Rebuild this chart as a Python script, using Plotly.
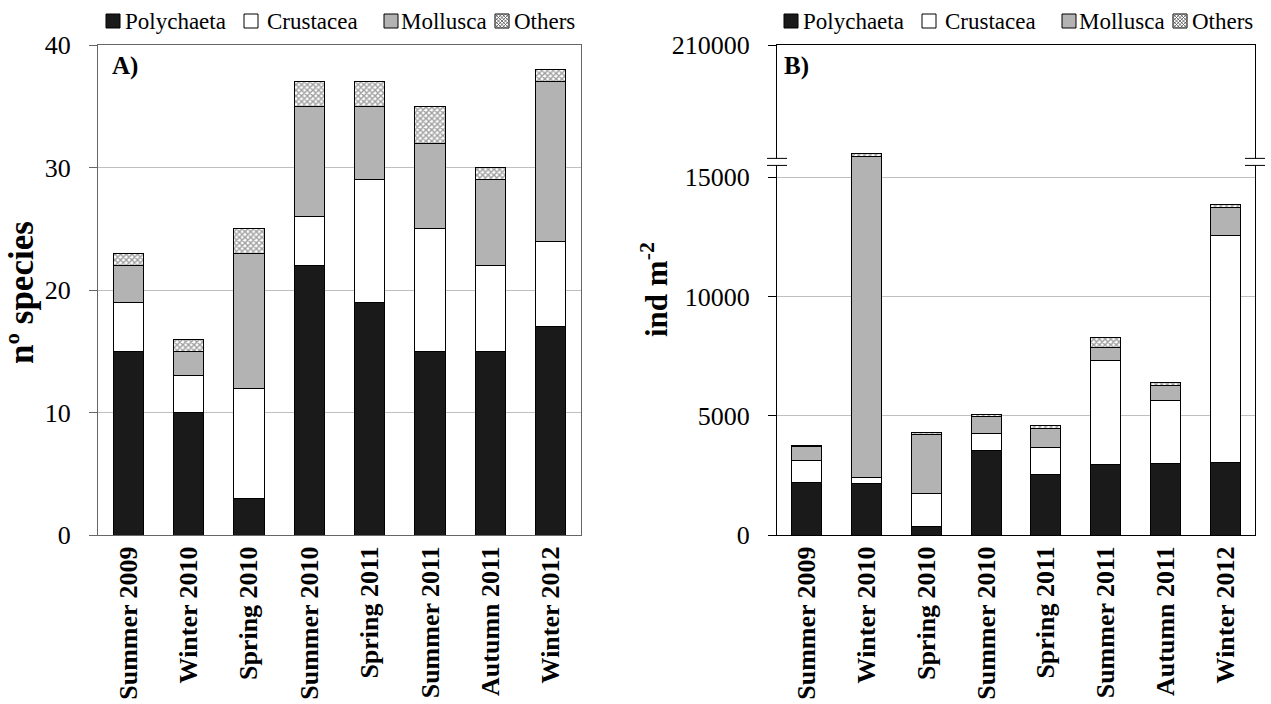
import plotly.graph_objects as go

categories = ["Summer 2009", "Winter 2010", "Spring 2010", "Summer 2010",
              "Spring 2011", "Summer 2011", "Autumn 2011", "Winter 2012"]
groups = ["Polychaeta", "Crustacea", "Mollusca", "Others"]

# Panel A: number of species
species_poly = [15, 10, 3, 22, 19, 15, 15, 17]
species_crus = [4, 3, 9, 4, 10, 10, 7, 7]
species_moll = [3, 2, 11, 9, 6, 7, 7, 13]
species_oth = [1, 1, 2, 2, 2, 3, 1, 1]

# Panel B: abundance (ind m-2)
abund_poly = [2200, 2160, 350, 3560, 2525, 2960, 3010, 3060]
abund_crus = [940, 240, 1390, 690, 1135, 4360, 2650, 9495]
abund_moll = [590, 13490, 2470, 730, 810, 550, 590, 1195]
abund_oth = [30, 110, 95, 80, 140, 410, 130, 110]

a_tickvals = [0, 10, 20, 30, 40]
b_tickvals = [0, 5000, 10000, 15000, 20550]
b_ticktext = ["0", "5000", "10000", "15000", "210000"]
b_break = [15500, 15795]

FONT = "Liberation Serif"
W, H = 1271, 704
ML, MR, MT, MB = 0, 0, 45, 169
PLOT_H = H - MT - MB


def px(x):
    return x / W


def py(y):
    return (H - MB - y) / PLOT_H


fills = {"Polychaeta": "#1a1a1a", "Crustacea": "#ffffff", "Mollusca": "#b3b3b3",
         "Others": "#ffffff"}
others_pattern = dict(shape="x", size=4, solidity=0.6, fgcolor="#404040", bgcolor="#ffffff")

fig = go.Figure()
for name, vals in zip(groups, [species_poly, species_crus, species_moll, species_oth]):
    m = dict(color=fills[name], line=dict(color="#000000", width=1))
    if name == "Others":
        m["pattern"] = others_pattern
    fig.add_trace(go.Bar(x=categories, y=vals, name=name, xaxis="x", yaxis="y",
                         marker=m, showlegend=False))
for name, vals in zip(groups, [abund_poly, abund_crus, abund_moll, abund_oth]):
    m = dict(color=fills[name], line=dict(color="#000000", width=1))
    if name == "Others":
        m["pattern"] = others_pattern
    fig.add_trace(go.Bar(x=categories, y=vals, name=name, xaxis="x2", yaxis="y2",
                         marker=m, showlegend=False))

xa = [px(98), px(581)]
xb = [px(777), px(1255)]

common_x = dict(type="category", showline=True, mirror=True, ticks="",
                tickangle=-90, automargin=False,
                tickfont=dict(family=FONT, size=26, color="black"), showgrid=False)
common_y = dict(showline=True, mirror=True, ticks="outside", ticklen=8, automargin=False,
                ticklabelstandoff=13,
                tickfont=dict(family=FONT, size=26, color="black"),
                showgrid=True, gridcolor="#bfbfbf", gridwidth=1, zeroline=False)

fig.update_layout(
    width=W, height=H,
    margin=dict(l=ML, r=MR, t=MT, b=MB, autoexpand=False),
    barmode="stack", bargap=0.5,
    plot_bgcolor="white", paper_bgcolor="white",
    font=dict(family=FONT, color="black"),
    showlegend=False,
    xaxis=dict(domain=xa, anchor="y", linecolor="#666666", **common_x,
               tickprefix="<b>", ticksuffix="</b>"),
    yaxis=dict(domain=[0, 1], anchor="x", range=[0, 40], tickvals=a_tickvals,
               linecolor="#666666", tickcolor="#666666", **common_y),
    xaxis2=dict(domain=xb, anchor="y2", linecolor="#000000", **common_x,
                tickprefix="<b>", ticksuffix="</b>"),
    yaxis2=dict(domain=[0, 1], anchor="x2", range=[0, 20550], tickvals=b_tickvals,
                ticktext=b_ticktext, linecolor="#000000", tickcolor="#000000", **common_y),
)

# panel labels and axis titles
fig.add_annotation(text="<b>A)</b>", xref="x domain", yref="y domain", x=0.025, y=0.99,
                   xanchor="left", yanchor="top", showarrow=False,
                   font=dict(family=FONT, size=25))
fig.add_annotation(text="<b>B)</b>", xref="x2 domain", yref="y2 domain", x=0.01, y=0.99,
                   xanchor="left", yanchor="top", showarrow=False,
                   font=dict(family=FONT, size=25))
fig.add_annotation(text="<b>nº species</b>", xref="paper", yref="paper", x=px(21), y=py(293),
                   xanchor="center", yanchor="middle",
                   textangle=-90, showarrow=False, font=dict(family=FONT, size=35))
fig.add_annotation(text="<b>ind m<sup>-2</sup></b>", xref="paper", yref="paper", x=px(654),
                   y=py(290), xanchor="center", yanchor="middle",
                   textangle=-90, showarrow=False, font=dict(family=FONT, size=31))

# custom legends (one above each panel)
legend_sq = [106, 244, 384, 495]
legend_tx = [123, 265, 399, 512]
SQ = 14
LY = 21
for off in [0, 678]:
    for name, sx, tx in zip(groups, legend_sq, legend_tx):
        x0, x1 = px(sx + off), px(sx + off + SQ)
        y0, y1 = py(LY + SQ / 2), py(LY - SQ / 2)
        fig.add_shape(type="rect", xref="paper", yref="paper", x0=x0, x1=x1, y0=y0, y1=y1,
                      fillcolor=fills[name], line=dict(color="#000000", width=1))
        if name == "Others":
            step = 3.5
            k = -SQ + step
            while k < SQ:
                a0, a1 = max(0, k), min(SQ, SQ + k)
                fig.add_shape(type="line", xref="paper", yref="paper",
                              x0=px(sx + off + a0), x1=px(sx + off + a1),
                              y0=py(LY - SQ / 2 + a0 - k), y1=py(LY - SQ / 2 + a1 - k),
                              line=dict(color="#555555", width=0.8))
                fig.add_shape(type="line", xref="paper", yref="paper",
                              x0=px(sx + off + a0), x1=px(sx + off + a1),
                              y0=py(LY + SQ / 2 - (a0 - k)), y1=py(LY + SQ / 2 - (a1 - k)),
                              line=dict(color="#555555", width=0.8))
                k += step
        fig.add_annotation(text=name, xref="paper", yref="paper", x=px(tx + off), y=py(LY),
                           xanchor="left", yanchor="middle", showarrow=False,
                           font=dict(family=FONT, size=23))

# axis break marks on panel B
for xp in [777, 1255]:
    fig.add_shape(type="rect", xref="paper", yref="y2", x0=px(xp - 10), x1=px(xp + 10),
                  y0=b_break[0], y1=b_break[1], fillcolor="white", line=dict(width=0),
                  layer="above")
    for yb in b_break:
        fig.add_shape(type="line", xref="paper", yref="y2", x0=px(xp - 10), x1=px(xp + 10),
                      y0=yb, y1=yb, line=dict(color="black", width=1), layer="above")

fig.write_html("out.html", config={"displayModeBar": False},
               post_script="document.body.style.margin='0';document.body.style.overflow='hidden';")
